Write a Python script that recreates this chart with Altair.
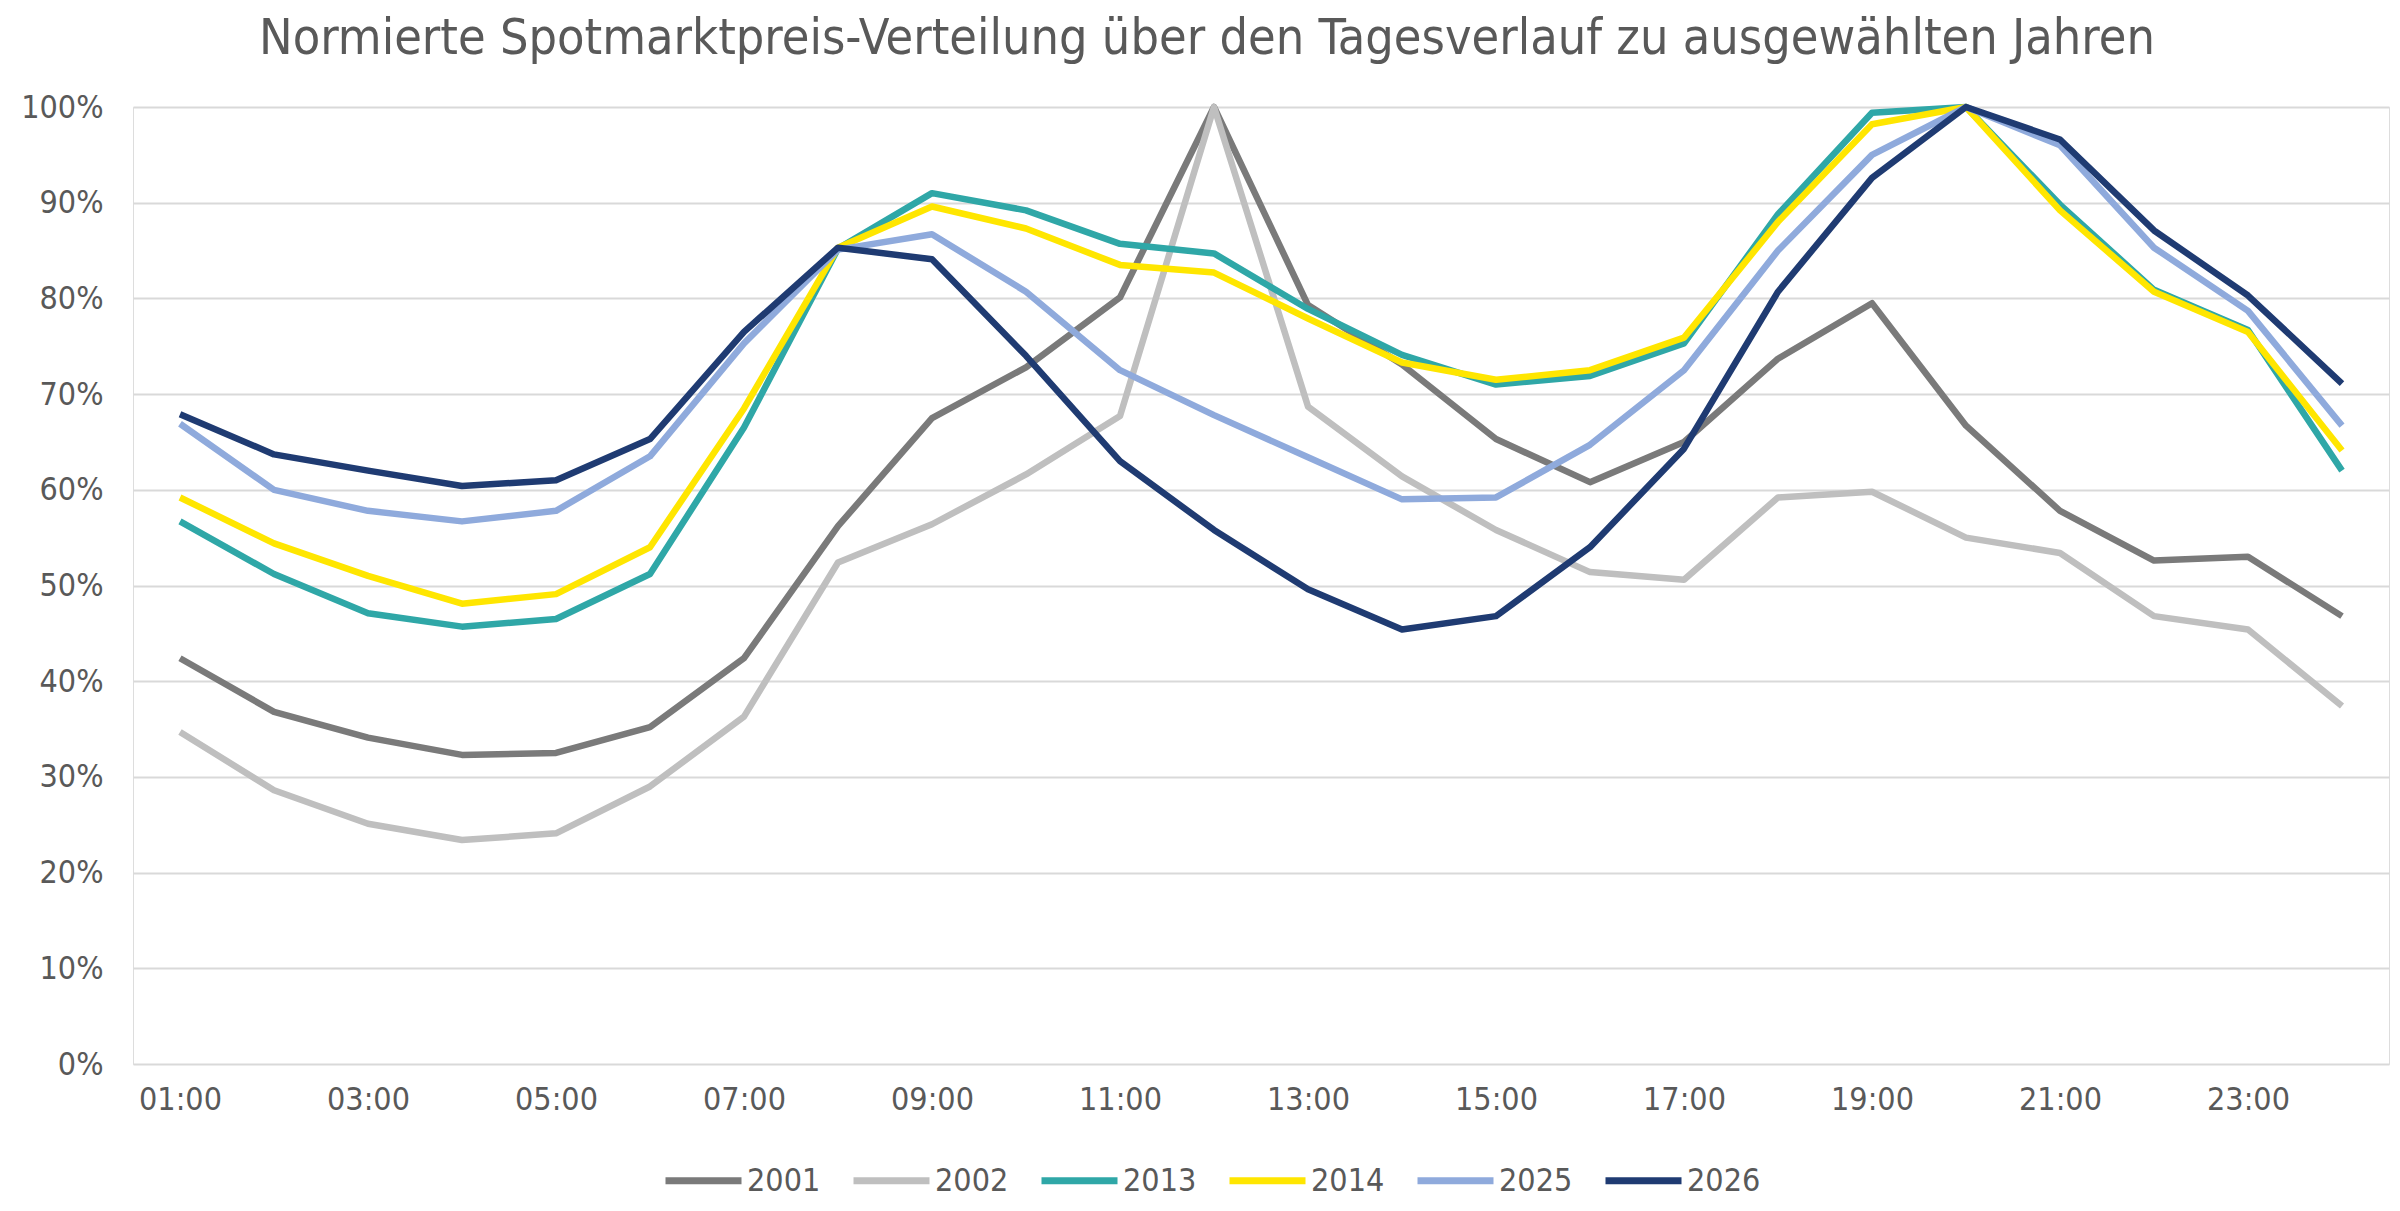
import altair as alt
import pandas as pd

FONT = "DejaVu Sans Condensed"
TEXT_COLOR = "#595959"

hours = ["01:00", "02:00", "03:00", "04:00", "05:00", "06:00", "07:00", "08:00",
         "09:00", "10:00", "11:00", "12:00", "13:00", "14:00", "15:00", "16:00",
         "17:00", "18:00", "19:00", "20:00", "21:00", "22:00", "23:00", "24:00"]
x_tick_labels = ["01:00", "03:00", "05:00", "07:00", "09:00", "11:00",
                 "13:00", "15:00", "17:00", "19:00", "21:00", "23:00"]
y_ticks = [0.0, 0.1, 0.2, 0.3, 0.4, 0.5, 0.6, 0.7, 0.8, 0.9, 1.0]

years = ["2001", "2002", "2013", "2014", "2025", "2026"]
colors = ["#7a7a7a", "#bfbfbf", "#2fa7a7", "#ffe600", "#8faadc", "#1f3b72"]

v2001 = [42.4, 36.8, 34.1, 32.3, 32.5, 35.2, 42.4, 56.2, 67.5, 72.8, 80.1, 100.0,
         79.3, 73.1, 65.3, 60.8, 65.0, 73.7, 79.5, 66.7, 57.8, 52.6, 53.0, 46.8]
v2002 = [34.7, 28.6, 25.1, 23.4, 24.1, 29.0, 36.3, 52.4, 56.4, 61.6, 67.7, 100.0,
         68.7, 61.4, 55.8, 51.4, 50.6, 59.2, 59.8, 55.0, 53.4, 46.8, 45.4, 37.4]
v2013 = [56.7, 51.2, 47.1, 45.7, 46.5, 51.2, 66.5, 85.2, 91.0, 89.2, 85.7, 84.7,
         78.9, 74.1, 71.0, 71.9, 75.3, 88.8, 99.4, 100.0, 89.8, 80.9, 76.7, 62.0]
v2014 = [59.2, 54.4, 51.0, 48.1, 49.1, 54.0, 68.5, 85.3, 89.6, 87.3, 83.5, 82.7,
         77.9, 73.3, 71.5, 72.5, 75.9, 88.0, 98.2, 100.0, 89.2, 80.7, 76.5, 64.1]
v2025 = [66.9, 60.0, 57.8, 56.7, 57.8, 63.5, 75.3, 85.1, 86.7, 80.7, 72.5, 67.8,
         63.4, 59.0, 59.2, 64.7, 72.5, 85.0, 95.0, 100.0, 96.0, 85.3, 78.7, 66.7]
v2026 = [67.9, 63.7, 62.0, 60.4, 61.0, 65.3, 76.5, 85.3, 84.1, 74.0, 63.0, 55.8,
         49.6, 45.4, 46.8, 54.0, 64.3, 80.7, 92.6, 100.0, 96.6, 87.1, 80.3, 71.1]

series = [v2001, v2002, v2013, v2014, v2025, v2026]

rows = []
for year, vals in zip(years, series):
    for h, v in zip(hours, vals):
        rows.append({"Stunde": h, "Jahr": year, "Wert": v / 100.0})
df = pd.DataFrame(rows)

chart = alt.Chart(df).mark_line(strokeWidth=6.5, strokeJoin="round").encode(
    x=alt.X(
        "Stunde:O",
        sort=hours,
        scale=alt.Scale(type="point", padding=0.5),
        axis=alt.Axis(
            values=x_tick_labels, title=None, labelAngle=0, ticks=False,
            domain=False, grid=False, labelFontSize=32, labelColor=TEXT_COLOR,
            labelFont=FONT, labelPadding=20,
        ),
    ),
    y=alt.Y(
        "Wert:Q",
        scale=alt.Scale(domain=[0, 1], nice=False),
        axis=alt.Axis(
            values=y_ticks, format=".0%", title=None, ticks=False, domain=False,
            gridColor="#d9d9d9", gridWidth=2, labelFontSize=32,
            labelColor=TEXT_COLOR, labelFont=FONT, labelPadding=30,
        ),
    ),
    color=alt.Color(
        "Jahr:N",
        scale=alt.Scale(domain=years, range=colors),
        legend=alt.Legend(
            title=None, orient="none", direction="horizontal",
            legendX=529, legendY=1032, symbolType="stroke",
            symbolStrokeWidth=7, symbolSize=5776, labelFontSize=32,
            labelColor=TEXT_COLOR, labelFont=FONT, columnPadding=18,
            labelOffset=2,
        ),
    ),
).properties(
    width=2256,
    height=957,
    title=alt.TitleParams(
        text="Normierte Spotmarktpreis-Verteilung über den Tagesverlauf zu ausgewählten Jahren",
        font=FONT, fontSize=50, fontWeight="normal", color=TEXT_COLOR,
        anchor="middle", frame="group", dx=-54, dy=53, offset=40,
        baseline="alphabetic",
    ),
    padding={"left": 125, "top": 99, "right": 3, "bottom": 136},
    autosize=alt.AutoSizeParams(type="none"),
).configure_view(stroke=None).configure(background="white")

chart.save("out.html", embed_options={"renderer": "svg", "actions": False})
